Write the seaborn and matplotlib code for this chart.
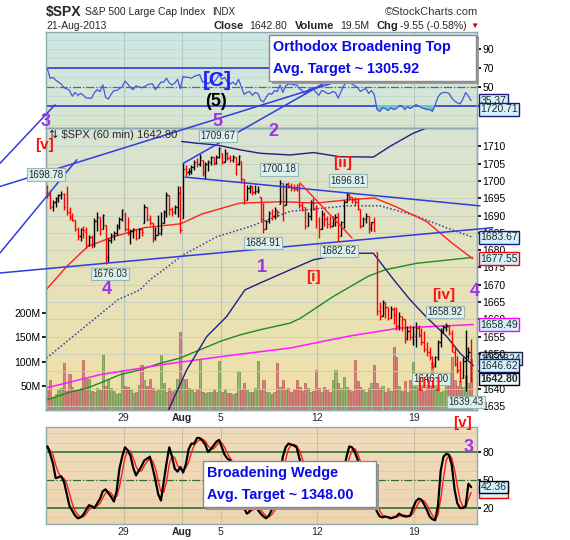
import numpy as np
import pandas as pd
import matplotlib
matplotlib.use("Agg")
import matplotlib.pyplot as plt
import matplotlib.colors as mcolors
from matplotlib.patches import Rectangle
from matplotlib.transforms import blended_transform_factory
import seaborn as sns

# ---- hourly bars, $SPX 60 min, 23-Jul-2013 .. 21-Aug-2013 (7 bars a day) ----
days = ["07-23", "07-24", "07-25", "07-26", "07-29", "07-30", "07-31", "08-01",
        "08-02", "08-05", "08-06", "08-07", "08-08", "08-09", "08-12", "08-13",
        "08-14", "08-15", "08-16", "08-19", "08-20", "08-21"]
day_open = [1696.6, 1696.1, 1685.2, 1687.3, 1690.3, 1687.9, 1687.8, 1689.4,
            1706.1, 1708.0, 1705.8, 1695.3, 1693.4, 1696.1, 1688.4, 1690.7,
            1693.9, 1679.6, 1661.2, 1655.3, 1646.8, 1650.7]
high_by_day = [
    [1698.8, 1697.0, 1694.5, 1695.5, 1696.2, 1697.0, 1696.5],
    [1698.4, 1692.6, 1690.7, 1688.5, 1686.8, 1686.3, 1687.0],
    [1686.8, 1684.5, 1684.4, 1689.2, 1690.9, 1689.0, 1690.5],
    [1687.3, 1683.5, 1685.0, 1685.4, 1687.5, 1689.5, 1691.9],
    [1690.9, 1689.5, 1686.0, 1686.4, 1686.0, 1686.5, 1686.5],
    [1693.2, 1692.1, 1690.2, 1687.5, 1686.8, 1690.2, 1691.0],
    [1691.6, 1696.9, 1694.0, 1692.5, 1693.0, 1698.4, 1698.4],
    [1705.1, 1704.7, 1703.7, 1704.5, 1706.1, 1706.5, 1707.9],
    [1706.1, 1705.6, 1706.0, 1707.1, 1707.0, 1707.5, 1709.7],
    [1708.0, 1709.2, 1708.5, 1707.5, 1707.5, 1707.0, 1707.5],
    [1705.8, 1700.5, 1698.9, 1698.9, 1698.5, 1698.9, 1698.5],
    [1695.3, 1693.6, 1688.8, 1691.2, 1692.0, 1692.5, 1691.5],
    [1700.2, 1696.0, 1699.4, 1699.8, 1699.5, 1699.0, 1699.0],
    [1699.4, 1694.0, 1692.1, 1691.0, 1694.5, 1695.0, 1693.0],
    [1689.5, 1691.5, 1691.0, 1690.0, 1690.0, 1690.0, 1690.5],
    [1690.7, 1688.3, 1694.5, 1696.8, 1696.5, 1695.5, 1695.5],
    [1695.0, 1692.0, 1689.7, 1690.7, 1688.8, 1688.2, 1689.7],
    [1679.6, 1665.1, 1665.6, 1665.0, 1663.6, 1664.0, 1663.5],
    [1663.6, 1662.0, 1661.0, 1659.0, 1658.0, 1658.5, 1658.0],
    [1659.2, 1658.5, 1657.5, 1656.5, 1653.5, 1652.0, 1649.5],
    [1649.5, 1654.1, 1657.5, 1658.4, 1658.9, 1658.5, 1657.0],
    [1652.1, 1649.5, 1648.0, 1649.0, 1657.0, 1652.0, 1654.4],
]
low_by_day = [
    [1695.0, 1692.0, 1691.3, 1692.6, 1694.0, 1694.8, 1691.5],
    [1690.2, 1688.8, 1688.4, 1685.5, 1683.0, 1682.6, 1683.5],
    [1680.7, 1681.5, 1680.6, 1681.0, 1685.5, 1684.5, 1686.0],
    [1676.0, 1676.5, 1682.0, 1683.0, 1684.5, 1686.0, 1688.5],
    [1685.5, 1684.5, 1681.9, 1683.5, 1682.8, 1683.5, 1684.0],
    [1688.0, 1688.3, 1687.3, 1682.4, 1683.0, 1684.5, 1684.5],
    [1687.8, 1689.7, 1690.2, 1690.0, 1690.5, 1689.7, 1684.9],
    [1689.4, 1701.3, 1701.8, 1702.0, 1703.2, 1704.0, 1704.2],
    [1701.5, 1700.7, 1703.0, 1704.7, 1704.5, 1705.0, 1706.6],
    [1705.0, 1706.1, 1706.0, 1705.5, 1705.5, 1701.6, 1704.5],
    [1699.8, 1693.3, 1696.0, 1696.5, 1696.0, 1696.3, 1696.5],
    [1688.3, 1684.9, 1686.0, 1687.8, 1688.8, 1689.0, 1689.5],
    [1693.4, 1688.4, 1693.6, 1697.9, 1697.0, 1697.0, 1697.0],
    [1692.1, 1691.2, 1686.0, 1687.5, 1688.8, 1691.5, 1686.5],
    [1683.4, 1686.0, 1687.0, 1686.5, 1686.5, 1687.5, 1687.0],
    [1682.6, 1684.4, 1686.4, 1694.0, 1694.6, 1693.5, 1693.0],
    [1691.6, 1686.4, 1687.3, 1687.8, 1684.9, 1685.5, 1685.4],
    [1661.3, 1659.9, 1661.8, 1660.3, 1659.9, 1660.5, 1658.6],
    [1656.9, 1657.0, 1656.5, 1653.1, 1654.0, 1654.0, 1652.6],
    [1652.0, 1655.0, 1652.5, 1650.5, 1649.5, 1648.3, 1645.8],
    [1646.1, 1648.3, 1652.0, 1656.0, 1656.5, 1655.5, 1650.5],
    [1646.4, 1644.5, 1642.0, 1643.5, 1639.4, 1648.5, 1641.8],
]
close_by_day = [
    [1695.8, 1692.5, 1693.8, 1695.0, 1695.8, 1696.2, 1692.4],
    [1691.0, 1689.5, 1688.8, 1686.0, 1684.0, 1686.2, 1685.9],
    [1681.5, 1683.8, 1682.0, 1688.5, 1689.5, 1686.0, 1690.2],
    [1678.0, 1683.0, 1684.5, 1685.0, 1687.0, 1689.0, 1691.6],
    [1686.0, 1685.0, 1685.5, 1686.0, 1683.5, 1686.0, 1685.3],
    [1692.5, 1689.0, 1687.8, 1683.5, 1684.5, 1685.0, 1686.0],
    [1691.0, 1696.0, 1692.0, 1691.0, 1692.5, 1696.5, 1685.7],
    [1703.5, 1702.5, 1703.0, 1704.0, 1705.5, 1705.0, 1706.9],
    [1702.5, 1705.0, 1705.5, 1706.8, 1705.2, 1707.0, 1709.6],
    [1705.5, 1708.0, 1706.5, 1706.0, 1707.0, 1705.0, 1707.1],
    [1700.5, 1694.5, 1698.0, 1698.5, 1696.8, 1697.0, 1697.4],
    [1689.0, 1686.0, 1688.5, 1690.8, 1690.0, 1691.5, 1690.9],
    [1699.5, 1693.0, 1699.0, 1698.5, 1698.0, 1697.8, 1697.5],
    [1693.0, 1692.5, 1687.0, 1690.0, 1694.0, 1692.0, 1691.4],
    [1686.0, 1690.5, 1689.0, 1687.5, 1687.0, 1689.0, 1689.5],
    [1684.0, 1688.0, 1694.0, 1696.0, 1695.5, 1694.5, 1694.2],
    [1692.0, 1687.0, 1689.0, 1690.0, 1686.5, 1688.0, 1685.4],
    [1662.5, 1661.0, 1665.0, 1663.5, 1660.5, 1663.0, 1661.3],
    [1658.0, 1661.0, 1660.0, 1654.5, 1656.5, 1655.0, 1655.8],
    [1657.5, 1655.5, 1653.5, 1651.5, 1650.5, 1649.0, 1646.1],
    [1649.0, 1653.5, 1656.5, 1657.8, 1658.2, 1656.0, 1652.4],
    [1647.0, 1645.5, 1643.0, 1648.0, 1649.5, 1650.5, 1642.8],
]
volume_by_day = [  # millions of shares
    [43, 63, 25, 33, 41, 45, 97], [40, 75, 48, 41, 41, 45, 104],
    [64, 64, 40, 38, 45, 41, 115], [50, 62, 45, 40, 33, 35, 83],
    [50, 48, 41, 35, 38, 52, 93], [62, 50, 65, 45, 40, 43, 114],
    [55, 38, 45, 40, 41, 64, 162], [64, 64, 45, 41, 38, 43, 104],
    [38, 36, 38, 37, 41, 37, 102], [38, 43, 35, 35, 33, 35, 80],
    [43, 56, 41, 38, 37, 45, 102], [43, 62, 38, 38, 33, 37, 97],
    [48, 62, 43, 45, 38, 44, 62], [48, 40, 55, 45, 38, 40, 83],
    [45, 38, 48, 43, 38, 62, 83], [55, 45, 69, 48, 43, 40, 104],
    [60, 48, 41, 38, 45, 55, 94], [56, 45, 50, 38, 45, 40, 131],
    [110, 50, 40, 60, 38, 62, 100], [55, 45, 60, 40, 48, 62, 100],
    [55, 45, 38, 40, 55, 65, 110], [62, 50, 60, 48, 72, 55, 106],
]
rsi_by_day = [
    [69, 59, 60, 57, 55, 53, 49], [48, 46, 40, 44, 41, 43, 41],
    [38, 38, 38, 44, 47, 45, 52], [39, 37, 42, 46, 46, 48, 50],
    [56, 53, 49, 47, 51, 50, 49], [50, 52, 53, 53, 47, 51, 55],
    [55, 59, 54, 52, 54, 58, 48], [61, 60, 60, 59, 61, 62, 63],
    [55, 56, 53, 56, 55, 58, 63], [58, 60, 55, 53, 55, 52, 58],
    [50, 42, 44, 45, 41, 44, 43], [36, 34, 39, 43, 42, 46, 45],
    [52, 44, 51, 53, 53, 52, 52], [48, 46, 42, 46, 49, 48, 44],
    [41, 46, 45, 43, 43, 45, 44], [38, 45, 51, 55, 54, 53, 51],
    [49, 45, 47, 48, 43, 46, 42], [26, 24, 28, 27, 25, 28, 26],
    [27, 30, 30, 26, 29, 27, 29], [31, 30, 28, 27, 26, 26, 24],
    [31, 39, 43, 44, 44, 43, 38], [35, 33, 32, 37, 44, 40, 35.37],
]
stoch_k_by_day = [
    [86, 78, 68, 52, 53, 54, 48], [35, 22, 17, 12, 9, 10, 13],
    [18, 23, 22, 20, 25, 30, 38], [40, 36, 32, 27, 38, 62, 75],
    [85, 82, 76, 63, 55, 60, 65], [71, 73, 75, 63, 50, 35, 28],
    [48, 68, 85, 75, 62, 59, 64], [58, 67, 83, 89, 89, 95, 95],
    [92, 88, 80, 83, 87, 91, 93], [85, 77, 73, 71, 62, 50, 38],
    [28, 20, 14, 16, 22, 22, 18], [14, 11, 9, 12, 18, 21, 30],
    [55, 75, 85, 89, 88, 87, 85], [73, 62, 50, 42, 45, 52, 44],
    [36, 30, 35, 45, 40, 38, 45], [30, 42, 60, 75, 86, 85, 80],
    [72, 58, 45, 38, 32, 30, 24], [16, 11, 10, 11, 10, 9, 10],
    [11, 14, 12, 11, 11, 12, 20], [27, 30, 29, 24, 18, 11, 8],
    [7, 22, 60, 75, 78, 77, 66], [40, 25, 20, 20, 22, 46, 42.36],
]

# overlays on the price scale, sampled at bar positions
red_ma_x = [-0.5, 7, 14.5, 22.5, 35, 48, 56, 69.5, 85, 97, 108, 118, 126, 137, 146, 153.5]
red_ma_y = [1668.5, 1675.3, 1681.0, 1683.5, 1686.5, 1687.6, 1690.5, 1693.6, 1694.0,
            1693.6, 1694.5, 1695.1, 1692.5, 1688.2, 1682.1, 1677.55]
dot_ma_x = [-0.3, 25.5, 33.4, 37, 49, 61.2, 73.1, 87.6, 108.1, 120.1, 132, 144.3, 153.7]
dot_ma_y = [1648.8, 1665.7, 1668.5, 1671.4, 1678.6, 1683.9, 1686.8, 1691.2, 1692.8,
            1692.8, 1690.2, 1686.4, 1683.67]
green_ma_x = [-0.3, 7, 14.2, 19, 26.2, 33.4, 40.6, 47.9, 55.1, 62.3, 69.5, 76.8, 87.6,
              91.3, 103.2, 115.7, 121.8, 133.3, 153.5]
green_ma_y = [1636.7, 1638.7, 1640.1, 1641.6, 1644.0, 1645.4, 1647.3, 1648.8, 1651.2,
              1653.6, 1655.5, 1657.0, 1658.9, 1660.3, 1666.6, 1672.4, 1674.3, 1676.2, 1677.9]
magenta_ma_x = [-0.3, 19, 43.1, 67.1, 87.6, 109.2, 127.3, 153.7]
magenta_ma_y = [1640.2, 1644.0, 1647.1, 1649.7, 1651.7, 1655.2, 1657.5, 1658.49]
upper_band_x = [48.5, 53.9, 61.1, 69.5, 76.8, 87.6, 96, 105.6, 117.7, 123.7, 132.1, 136.9, 153.7]
upper_band_y = [1711.4, 1710.9, 1710.4, 1709.0, 1708.0, 1707.5, 1708.2, 1707.0, 1706.9,
                1710.0, 1713.8, 1715.3, 1720.71]
lower_band_x = [41.0, 50.3, 57.5, 64.7, 71.3, 76.8, 87.6, 96, 108.1, 117.7, 124.5, 130.9,
                137, 144.2, 149, 153.8]
lower_band_y = [1629.0, 1645.4, 1655.0, 1660.8, 1668.5, 1670.5, 1674.3, 1677.2, 1679.1,
                1679.1, 1672.0, 1665.7, 1660.5, 1655.0, 1650.2, 1646.62]

# hand-drawn trendlines, (bar, price) -> (bar, price)
blue_lines = [
    ((-17.1, 1673.4), (160.9, 1686.5)),
    ((49.7, 1701.1), (156.2, 1692.8)),
    ((49.1, 1705.1), (102.0, 1729.2)),
    ((-17.1, 1698.4), (155.5, 1741.4)),
    ((-17.1, 1679.2), (10.6, 1706.1)),
    ((-17.1, 1705.1), (2.75, 1722.0)),
]
red_line = ((91.2, 1699.4), (110.0, 1683.5))

date_ticks = [27.5, 48.5, 62.5, 97.5, 132.5]
date_labels = ["29", "Aug", "5", "12", "19"]


def flat(rows):
    return np.array([v for row in rows for v in row], dtype=float)


bars = pd.DataFrame({
    "high": flat(high_by_day), "low": flat(low_by_day), "close": flat(close_by_day),
    "volume": flat(volume_by_day), "rsi": flat(rsi_by_day), "k": flat(stoch_k_by_day),
})
bars["idx"] = np.arange(len(bars))
opens = np.r_[np.nan, bars["close"].values[:-1]]
opens[::7] = day_open
bars["open"] = opens
prev_close = np.r_[day_open[0], bars["close"].values[:-1]]
bars["up"] = bars["close"] >= prev_close
bars["d"] = bars["k"].rolling(3, min_periods=1).mean()

sns.set_theme(style="white")
plt.rcParams["font.family"] = ["Liberation Sans", "DejaVu Sans"]

W, H = 570, 540
fig = plt.figure(figsize=(5.7, 5.4), dpi=100)
fig.patch.set_facecolor("white")


def fx(x):
    return x / W


def fy(y):
    return 1 - y / H


def panel(top, bottom):
    return fig.add_axes([fx(46), fy(bottom), fx(477) - fx(46), fy(top) - fy(bottom)])


def gradient(ax, top, bottom):
    c0, c1 = np.array(mcolors.to_rgb(top)), np.array(mcolors.to_rgb(bottom))
    g = np.linspace(0, 1, 128)[:, None, None]
    img = c0 * (1 - g) + c1 * g
    ax.imshow(img, extent=[0, 1, 0, 1], transform=ax.transAxes, aspect="auto",
              zorder=0, interpolation="bilinear")


SPINE = "#8ea9b0"
GRID = "#c3cdc2"
XLIM = (-0.5, 155.1)

ax_rsi = panel(32, 128)
ax_vol = panel(128, 410)
ax_px = ax_vol.twinx()
ax_osc = panel(427, 524)
ax_rsi.set_zorder(1)
ax_osc.set_zorder(1)
ax_vol.set_zorder(2)
ax_px.set_zorder(3)

for ax in (ax_rsi, ax_vol, ax_osc):
    ax.set_autoscale_on(False)
gradient(ax_rsi, "#cbe7e6", "#d9e6cf")
gradient(ax_vol, "#d8e4d4", "#f1e0a6")
gradient(ax_osc, "#f0dcbc", "#edd5b0")

for ax in (ax_rsi, ax_vol, ax_px, ax_osc):
    ax.set_xlim(*XLIM)
    for s in ax.spines.values():
        s.set_color(SPINE)
        s.set_linewidth(1)

# ---- RSI panel ----
ax_rsi.set_ylim(6.4, 108)
for v in range(10, 101, 10):
    ax_rsi.axhline(v, color="#c2d8d0", lw=0.6, zorder=1)
for x in date_ticks:
    ax_rsi.axvline(x, color="#b6c8c4", lw=0.8, zorder=1)
ax_rsi.axhline(70, color="#2b2bd0", lw=1.1, zorder=2)
ax_rsi.axhline(30, color="#2b2bd0", lw=1.1, zorder=2)
ax_rsi.axhline(50, color="#5565a5", lw=0.9, ls="-.", zorder=2)
ax_rsi.fill_between(bars["idx"], bars["rsi"], 30, where=bars["rsi"] < 30,
                    interpolate=True, color="#6cc9c6", zorder=2)
sns.lineplot(x=bars["idx"], y=bars["rsi"], ax=ax_rsi, color="#4556dc", lw=0.9, zorder=3)
ax_rsi.set_xticks([])
ax_rsi.yaxis.tick_right()
ax_rsi.set_yticks([30, 50, 70, 90])
ax_rsi.tick_params(axis="y", labelsize=7.5, length=3, pad=1, colors="black")
ax_rsi.set_xlabel("")
ax_rsi.set_ylabel("")

# ---- price / volume panel ----
ax_vol.set_ylim(0, 583)
ax_px.set_ylim(1633.8, 1715.3)
for p in range(1635, 1716, 5):
    ax_px.axhline(p, color=GRID, lw=0.6, zorder=0)
for x in date_ticks:
    ax_vol.axvline(x, color="#b6c4ba", lw=0.8, zorder=1)

vol_colors = np.where(bars["up"], "#98b670", "#d98282")
vol_edges = np.where(bars["up"], "#6e8f4c", "#b95c5c")
ax_vol.bar(bars["idx"], bars["volume"], width=0.78, color=vol_colors,
           edgecolor=vol_edges, linewidth=0.5, zorder=2)
ax_vol.set_yticks([50, 100, 150, 200])
ax_vol.set_yticklabels(["50M", "100M", "150M", "200M"])
ax_vol.tick_params(axis="y", labelsize=7.5, length=3, pad=1, colors="black")
ax_vol.set_xticks(date_ticks)
ax_vol.set_xticklabels(date_labels)
ax_vol.tick_params(axis="x", labelsize=7.5, length=0, pad=2)
for lab in ax_vol.get_xticklabels():
    if lab.get_text() == "Aug":
        lab.set_fontweight("bold")

sns.lineplot(x=green_ma_x, y=green_ma_y, ax=ax_px, color="#1f8a1f", lw=1.0)
sns.lineplot(x=magenta_ma_x, y=magenta_ma_y, ax=ax_px, color="#ff1aff", lw=1.1)
sns.lineplot(x=dot_ma_x, y=dot_ma_y, ax=ax_px, color="#3a3aa0", lw=1.1, ls=(0, (1, 1.4)))
sns.lineplot(x=red_ma_x, y=red_ma_y, ax=ax_px, color="#ff2020", lw=1.0)
sns.lineplot(x=upper_band_x, y=upper_band_y, ax=ax_px, color="#202080", lw=1.0)
sns.lineplot(x=lower_band_x, y=lower_band_y, ax=ax_px, color="#202080", lw=1.0)

bar_colors = np.where(bars["up"], "black", "#ff0000")
lo = np.minimum(bars["low"], bars["open"])
hi = np.maximum(bars["high"], bars["open"])
ax_px.vlines(bars["idx"], lo, hi, colors=bar_colors, lw=1.0, zorder=5)
ax_px.hlines(bars["open"], bars["idx"] - 0.45, bars["idx"], colors=bar_colors, lw=1.0, zorder=5)
ax_px.hlines(bars["close"], bars["idx"], bars["idx"] + 0.45, colors=bar_colors, lw=1.0, zorder=5)

for (x0, y0), (x1, y1) in blue_lines:
    ax_px.plot([x0, x1], [y0, y1], color="#2f3ce0", lw=1.1, clip_on=False, zorder=6)
ax_px.plot([red_line[0][0], red_line[1][0]], [red_line[0][1], red_line[1][1]],
           color="#ff2020", lw=1.0, zorder=6)

ax_px.set_yticks(range(1635, 1715, 5))
ax_px.tick_params(axis="y", labelsize=7.5, length=3, pad=1, colors="black")
ax_px.set_xlabel("")
ax_px.set_ylabel("")
ax_vol.set_xlabel("")
ax_vol.set_ylabel("")

# ---- oscillator panel ----
ax_osc.set_ylim(2.9, 106.8)
for v in range(10, 101, 10):
    ax_osc.axhline(v, color="#e3c9a3", lw=0.6, zorder=1)
for x in date_ticks:
    ax_osc.axvline(x, color="#cdbfa5", lw=0.8, zorder=1)
ax_osc.axhline(80, color="#1d6a2c", lw=1.1, zorder=2)
ax_osc.axhline(20, color="#1d6a2c", lw=1.1, zorder=2)
ax_osc.axhline(50, color="#2e6a3a", lw=0.9, ls="-.", zorder=2)
sns.lineplot(x=bars["idx"], y=bars["d"], ax=ax_osc, color="#ff1a1a", lw=1.0, zorder=3)
sns.lineplot(x=bars["idx"], y=bars["k"], ax=ax_osc, color="black", lw=1.6, zorder=4)
ax_osc.yaxis.tick_right()
ax_osc.set_yticks([20, 50, 80])
ax_osc.tick_params(axis="y", labelsize=7.5, length=3, pad=1, colors="black")
ax_osc.set_xticks(date_ticks)
ax_osc.set_xticklabels(date_labels)
ax_osc.tick_params(axis="x", labelsize=7.5, length=0, pad=2)
for lab in ax_osc.get_xticklabels():
    if lab.get_text() == "Aug":
        lab.set_fontweight("bold")
ax_osc.set_xlabel("")
ax_osc.set_ylabel("")

# ---- value tags on the right edge ----
TAG_FC = "#d2f3fb"


def tag(ax, value, text, ec, bold=False, fc=TAG_FC, z=8):
    tr = blended_transform_factory(ax.transAxes, ax.transData)
    ax.text(1.008, value, text, transform=tr, ha="left", va="center", fontsize=7.5,
            fontweight="bold" if bold else "normal", clip_on=False, zorder=z,
            bbox=dict(boxstyle="square,pad=0.12", fc=fc, ec=ec, lw=1))


tag(ax_px, 1720.71, "1720.71", "#1a1a80")
tag(ax_px, 1683.67, "1683.67", "#1a1a80")
tag(ax_px, 1677.55, "1677.55", "#ff0000")
tag(ax_px, 1658.49, "1658.49", "#ff00ff")
tag(ax_vol, 106.0, "1060824", "#202040")
tag(ax_px, 1646.62, "1646.62", "#1a1a80")
tag(ax_px, 1642.80, "1642.80", "black", bold=True, fc="#eefbff")
tag(ax_rsi, 35.37, "35.37", "#1a1a80")
tag(ax_osc, 37.85, "37.85", "#ff0000", z=7)
tag(ax_osc, 42.36, "42.36", "black", z=8)


# ---- text on the figure (pixel positions) ----
def ftext(x, y, s, **kw):
    kw.setdefault("zorder", 12)
    fig.text(fx(x), fy(y), s, **kw)


ftext(46, 12, "$SPX", fontsize=10, fontweight="bold", va="center")
ftext(85, 12, "S&P 500 Large Cap Index", fontsize=7.5, va="center")
ftext(212, 12, "INDX", fontsize=7, va="center")
ftext(478, 12, "\u00a9StockCharts.com", fontsize=8, va="center", ha="right", color="#333333")
ftext(46, 26, "21-Aug-2013", fontsize=7.5, va="center")
ftext(213, 26, "Close", fontsize=8, va="center", fontweight="bold")
ftext(249, 26, "1642.80", fontsize=7.5, va="center")
ftext(295, 26, "Volume", fontsize=8, va="center", fontweight="bold")
ftext(340, 26, "19.5M", fontsize=7.5, va="center")
ftext(376, 26, "Chg", fontsize=8, va="center", fontweight="bold")
ftext(400, 26, "-9.55 (-0.58%)", fontsize=7.5, va="center")
ftext(474, 26, "\u25bc", fontsize=6, va="center", ha="center", color="#cc0000")
ftext(49, 135, "\u21c5 $SPX (60 min) 1642.80", fontsize=8, va="center")


def callout(x, y, s):
    ftext(x, y, s, fontsize=7, ha="center", va="center",
          bbox=dict(boxstyle="square,pad=0.15", fc="#dcf2f0", ec="#9ab7b7", lw=0.8))


callout(46, 174.5, "1698.78")
callout(218, 136, "1709.67")
callout(279, 169.5, "1700.18")
callout(348, 180.5, "1696.81")
callout(263, 243, "1684.91")
callout(110, 274, "1676.03")
callout(339, 251, "1682.62")
callout(445, 312, "1658.92")
callout(431, 379, "1646.00")
callout(466, 402, "1639.43")

PURPLE = "#a030f0"
RED = "#ff1010"


def wave(x, y, s, color, size):
    ftext(x, y, s, fontsize=size, fontweight="bold", color=color, ha="center",
          va="center", zorder=13)


wave(217, 80, "[C]", "#1f1fff", 15)
wave(216, 101, "(5)", "black", 13)
wave(46, 122, "3", PURPLE, 13)
wave(44, 145, "[v]", RED, 11)
wave(217, 121, "5", PURPLE, 13)
wave(273, 131, "2", PURPLE, 13)
wave(262, 268, "1", PURPLE, 13)
wave(107, 290, "4", PURPLE, 13)
wave(343, 163, "[ii]", RED, 11)
wave(313, 277, "[i]", RED, 11)
wave(444, 295, "[iv]", RED, 11)
wave(475, 292, "4", PURPLE, 13)
wave(429, 384, "[iii]", RED, 11)
wave(462, 423, "[v]", RED, 11)
wave(469, 447, "3", PURPLE, 13)


def note_box(x0, y0, x1, y1, lines):
    fig.patches.append(Rectangle((fx(x0 + 3), fy(y1 + 3)), fx(x1) - fx(x0), fy(y0) - fy(y1),
                                 transform=fig.transFigure, fc="#9a9a9a", ec="none", zorder=10))
    fig.patches.append(Rectangle((fx(x0), fy(y1)), fx(x1) - fx(x0), fy(y0) - fy(y1),
                                 transform=fig.transFigure, fc="white", ec="#8a8a8a",
                                 lw=1, zorder=11))
    step = (y1 - y0) / (len(lines) + 0.1)
    for k, s in enumerate(lines):
        ftext(x0 + 4, y0 + step * (k + 0.55), s, fontsize=10.4, fontweight="bold",
              color="#0a0ae6", va="center", zorder=12)


note_box(269, 35, 476, 81, ["Orthodox Broadening Top", "Avg. Target ~ 1305.92"])
note_box(203, 461, 376, 507, ["Broadening Wedge", "Avg. Target ~ 1348.00"])

fig.savefig("out.png", dpi=100, facecolor="white")
